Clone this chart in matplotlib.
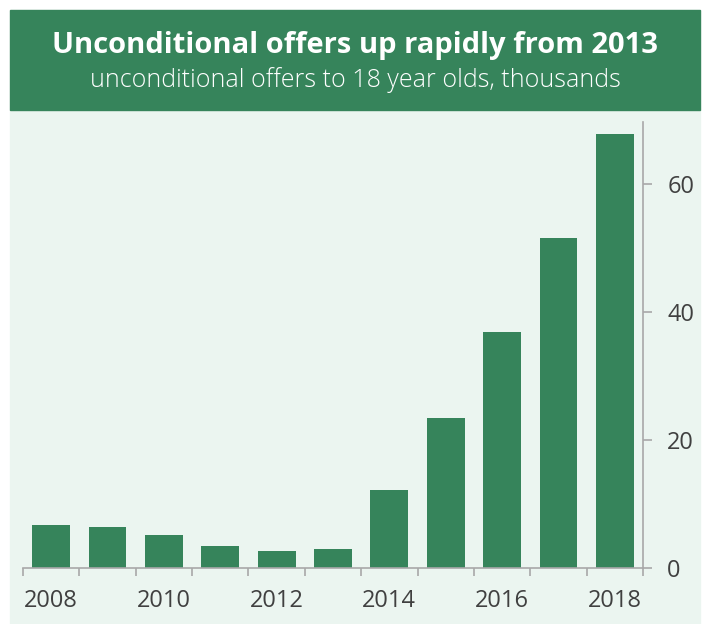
import matplotlib
matplotlib.use('Agg')
import matplotlib.pyplot as plt
from matplotlib.patches import Rectangle
import numpy as np

years = [2008, 2009, 2010, 2011, 2012, 2013, 2014, 2015, 2016, 2017, 2018]
offers = [6.7, 6.4, 5.2, 3.4, 2.6, 3.0, 12.2, 23.4, 36.9, 51.6, 67.8]
tick_years = [2008, 2010, 2012, 2014, 2016, 2018]
y_ticks = [0, 20, 40, 60]

GREEN = '#36845b'
LIGHT = '#ebf5f0'
GREY = '#a8a8a8'
TEXT = '#404040'

plt.rcParams['font.family'] = ['Open Sans', 'DejaVu Sans']

W, H = 708, 624
fig = plt.figure(figsize=(W / 100, H / 100), dpi=100, facecolor='white')

# background panel and header band (behind the axes)
fig.patches.append(Rectangle((10 / W, 0), 690 / W, (H - 110) / H,
                             transform=fig.transFigure, color=LIGHT, zorder=-2))
fig.patches.append(Rectangle((10 / W, (H - 110) / H), 690 / W, 100 / H,
                             transform=fig.transFigure, color=GREEN, zorder=-2))
fig.text(355 / W, 1 - 45 / H, 'Unconditional offers up rapidly from 2013',
         ha='center', va='center', color='white', fontsize=21, fontweight='bold')
fig.text(355 / W, 1 - 80 / H, 'unconditional offers to 18 year olds, thousands',
         ha='center', va='center', color='white', fontsize=18, fontweight='light')

ax = fig.add_axes([23 / W, 56 / H, 620 / W, 446 / H])
ax.set_facecolor('none')
x = np.arange(len(years))
ax.bar(x, offers, width=0.67, color=GREEN, zorder=2)

ax.set_xlim(-0.5, len(years) - 0.5)
ax.set_ylim(0, 69.7)

for s in ['top', 'left']:
    ax.spines[s].set_visible(False)
for s in ['bottom', 'right']:
    ax.spines[s].set_color(GREY)
    ax.spines[s].set_linewidth(1.2)

ax.yaxis.tick_right()
ax.set_yticks(y_ticks)
ax.tick_params(axis='y', length=6.5, width=1.2, color=GREY, labelcolor=TEXT,
               labelsize=17, pad=11)

ax.set_xticks([years.index(y) for y in tick_years])
ax.set_xticklabels([str(y) for y in tick_years])
ax.set_xticks(np.arange(-0.5, len(years)), minor=True)
ax.tick_params(axis='x', which='major', length=0, labelcolor=TEXT,
               labelsize=17, pad=15)
ax.tick_params(axis='x', which='minor', length=6, width=1.2, color=GREY)

fig.savefig('out.png', dpi=100, facecolor='white')
